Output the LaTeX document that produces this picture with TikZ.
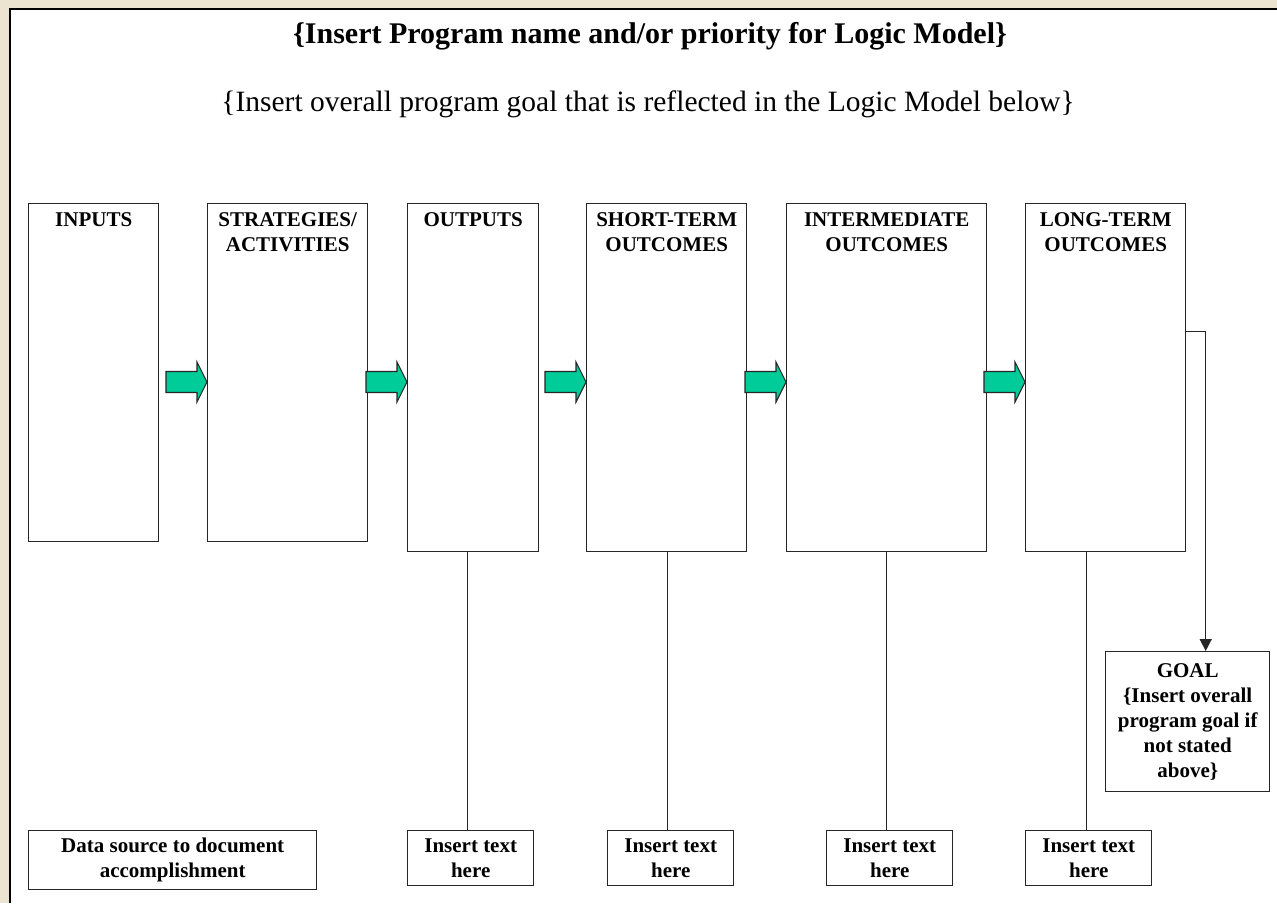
\documentclass[tikz,border=0pt]{standalone}
\usepackage{fontspec}
\setmainfont{Liberation Serif}
\usetikzlibrary{arrows.meta}
\definecolor{bgbeige}{HTML}{ECE3D1}
\definecolor{arrowgreen}{RGB}{0,204,153}
\newcommand\lblfont{\bfseries\fontsize{21}{25}\selectfont}
\newcommand\titlefont{\bfseries\fontsize{30}{34}\selectfont}
\newcommand\subfont{\fontsize{29.5}{34}\selectfont}
\begin{document}
\begin{tikzpicture}[x=1pt,y=-1pt,
  box/.style={draw=black!85, line width=1.4pt, fill=white, inner sep=0pt, anchor=north west},
  lbl/.style={font=\lblfont, align=center, inner sep=0pt},
  conn/.style={draw=black!85, line width=1.4pt},
  garrow/.style={draw=black!85, line width=1.1pt, fill=arrowgreen, line join=miter}
]
\useasboundingbox (0,0) rectangle (1277,903);
\fill[bgbeige] (0,0) rectangle (1277,903);
\fill[white] (10,9) rectangle (1277,903);
\draw[line width=2.6pt] (10,903) -- (10,9) -- (1277,9);

% titles
\node[font=\titlefont, inner sep=0pt] (title) at (650,36) {\{Insert Program name and/or priority for Logic Model\}};
\node[font=\subfont, inner sep=0pt] (subtitle) at (648,104) {\{Insert overall program goal that is reflected in the Logic Model below\}};

% main boxes
\node[box, minimum width=130pt, minimum height=338pt] (inputs) at (28,203) {};
\node[box, minimum width=160pt, minimum height=338pt] (strat) at (207,203) {};
\node[box, minimum width=131pt, minimum height=348pt] (outputs) at (407,203) {};
\node[box, minimum width=160pt, minimum height=348pt] (short) at (586,203) {};
\node[box, minimum width=200pt, minimum height=348pt] (inter) at (786,203) {};
\node[box, minimum width=160pt, minimum height=348pt] (long) at (1025,203) {};

\node[lbl, anchor=north] (inputsT) at ([yshift=-9pt]inputs.north) {INPUTS};
\node[lbl, anchor=north] (stratT) at ([yshift=-9pt]strat.north) {STRATEGIES/\\ACTIVITIES};
\node[lbl, anchor=north] (outputsT) at ([yshift=-9pt]outputs.north) {OUTPUTS};
\node[lbl, anchor=north] (shortT) at ([yshift=-9pt]short.north) {SHORT-TERM\\OUTCOMES};
\node[lbl, anchor=north] (interT) at ([yshift=-9pt]inter.north) {INTERMEDIATE\\OUTCOMES};
\node[lbl, anchor=north] (longT) at ([yshift=-9pt]long.north) {LONG-TERM\\OUTCOMES};

% goal
\node[box, minimum width=164pt, minimum height=140pt, font=\lblfont, align=center] (goal) at (1105,651)
  {GOAL\\\{Insert overall\\program goal if\\not stated\\above\}};

% bottom boxes
\node[box, minimum width=288pt, minimum height=59pt, font=\lblfont, align=center] (data) at (28,830) {Data source to document\\accomplishment};
\node[box, minimum width=126pt, minimum height=55pt, font=\lblfont, align=center] (ins1) at (407,830) {Insert text\\here};
\node[box, minimum width=126pt, minimum height=55pt, font=\lblfont, align=center] (ins2) at (607,830) {Insert text\\here};
\node[box, minimum width=126pt, minimum height=55pt, font=\lblfont, align=center] (ins3) at (826,830) {Insert text\\here};
\node[box, minimum width=126pt, minimum height=55pt, font=\lblfont, align=center] (ins4) at (1025,830) {Insert text\\here};

% connectors
\draw[conn] ([xshift=-3pt]ins1.north) -- ([xshift=-3pt]ins1.north |- outputs.south);
\draw[conn] ([xshift=-3pt]ins2.north) -- ([xshift=-3pt]ins2.north |- short.south);
\draw[conn] ([xshift=-3pt]ins3.north) -- ([xshift=-3pt]ins3.north |- inter.south);
\draw[conn] ([xshift=-2pt]ins4.north) -- ([xshift=-2pt]ins4.north |- long.south);
\draw[conn, -{Triangle[length=12pt,width=12pt]}] ([yshift=46pt]long.east) -| ([xshift=18pt]goal.north);

% green block arrows
\coordinate (t1) at (strat.west |- 0,382);
\coordinate (t2) at (outputs.west |- 0,382);
\coordinate (t3) at (short.west |- 0,382);
\coordinate (t4) at (inter.west |- 0,382);
\coordinate (t5) at (long.west |- 0,382);
\foreach \t in {t1,t2,t3,t4,t5}{
  \draw[garrow] (\t) ++(-41,-10.5) -- ++(31,0) -- ++(0,-9.5) -- ++(10,20) -- ++(-10,20) -- ++(0,-9.5) -- ++(-31,0) -- cycle;
}
\end{tikzpicture}
\end{document}
